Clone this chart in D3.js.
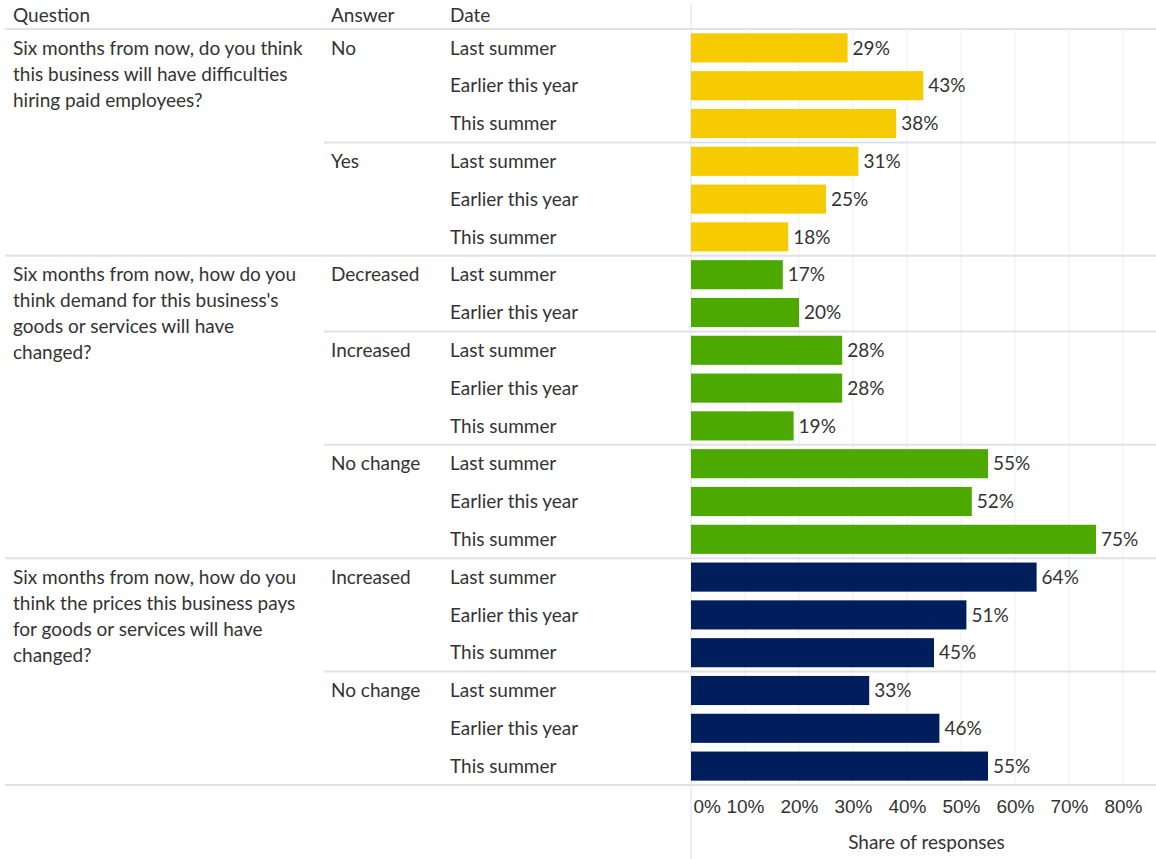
<!DOCTYPE html>
<html>
<head>
<meta charset="utf-8">
<script src="https://cdn.jsdelivr.net/npm/d3@7"></script>
<style>
  html, body { margin: 0; padding: 0; background: #fff; }
  svg { display: block; font-family: Lato, "Open Sans", sans-serif; }
  text { fill: #333; }
</style>
</head>
<body>
<svg id="chart" width="1156" height="859"></svg>
<script>
// Survey questions (pre-wrapped into lines)
const questionLines = [
  ["Six months from now, do you think", "this business will have difficulties", "hiring paid employees?"],
  ["Six months from now, how do you", "think demand for this business's", "goods or services will have", "changed?"],
  ["Six months from now, how do you", "think the prices this business pays", "for goods or services will have", "changed?"]
];
const questionColors = ["#F6CC00", "#4BA900", "#001E5C"];

// Answer groups and the question each belongs to
const answerLabels = ["No", "Yes", "Decreased", "Increased", "No change", "Increased", "No change"];
const answerQuestion = [0, 0, 1, 1, 1, 2, 2];

// One entry per bar row
const rowAnswer = [0, 0, 0, 1, 1, 1, 2, 2, 3, 3, 3, 4, 4, 4, 5, 5, 5, 6, 6, 6];
const rowDate = [
  "Last summer", "Earlier this year", "This summer",
  "Last summer", "Earlier this year", "This summer",
  "Last summer", "Earlier this year",
  "Last summer", "Earlier this year", "This summer",
  "Last summer", "Earlier this year", "This summer",
  "Last summer", "Earlier this year", "This summer",
  "Last summer", "Earlier this year", "This summer"
];
const shareValues = [29, 43, 38, 31, 25, 18, 17, 20, 28, 28, 19, 55, 52, 75, 64, 51, 45, 33, 46, 55];

const xTicks = [0, 10, 20, 30, 40, 50, 60, 70, 80];
const headers = ["Question", "Answer", "Date"];

// Layout
const W = 1156, H = 859;
const fontSize = 19;
const colX = [13, 331, 450];
const tableLeft = 5;
const answerLineLeft = 324;
const rowsTop = 29, rowsBottom = 785;
const svg = d3.select("#chart");

const x = d3.scaleLinear().domain([0, 80]).range([691, 1123]);
const y = d3.scaleBand().domain(d3.range(shareValues.length))
  .range([rowsTop, rowsBottom]).paddingInner(0.23).paddingOuter(0.115);
const step = y.step();
const rowMid = i => y(i) + y.bandwidth() / 2;

// Vertical gridlines across the rows
svg.append("g").selectAll("line").data(xTicks.slice(1)).join("line")
  .attr("x1", d => x(d)).attr("x2", d => x(d))
  .attr("y1", rowsTop).attr("y2", rowsBottom)
  .attr("stroke", "#efefef").attr("stroke-width", 1);

// Row-group separators
const answerStart = answerLabels.map((_, a) => rowAnswer.indexOf(a));
const questionStart = questionLines.map((_, q) => answerStart[answerQuestion.indexOf(q)]);
const sepG = svg.append("g");
answerStart.forEach((r, a) => {
  if (r === 0) return;
  const newQuestion = answerQuestion[a] !== answerQuestion[a - 1];
  const yy = rowsTop + r * step;
  sepG.append("line")
    .attr("x1", newQuestion ? tableLeft : answerLineLeft).attr("x2", W)
    .attr("y1", yy).attr("y2", yy)
    .attr("stroke", "#e2e2e2").attr("stroke-width", 2);
});
[rowsTop, rowsBottom].forEach(yy => {
  sepG.append("line").attr("x1", tableLeft).attr("x2", W)
    .attr("y1", yy).attr("y2", yy)
    .attr("stroke", "#e2e2e2").attr("stroke-width", 2);
});

// Zero line of the value pane
svg.append("line")
  .attr("x1", x(0)).attr("x2", x(0)).attr("y1", 3).attr("y2", H)
  .attr("stroke", "#e4e4e4").attr("stroke-width", 1.2);

// Column headers
svg.append("g").selectAll("text").data(headers).join("text")
  .attr("x", (d, i) => colX[i]).attr("y", 15)
  .attr("dy", "0.35em").attr("font-size", fontSize)
  .text(d => d);

// Question labels
const qG = svg.append("g");
questionLines.forEach((lines, q) => {
  const yy = rowMid(questionStart[q]);
  qG.append("text").attr("font-size", fontSize)
    .selectAll("tspan").data(lines).join("tspan")
    .attr("x", colX[0]).attr("y", (d, i) => yy + i * 26)
    .attr("dy", "0.35em").text(d => d);
});

// Answer labels
svg.append("g").selectAll("text").data(answerLabels).join("text")
  .attr("x", colX[1]).attr("y", (d, a) => rowMid(answerStart[a]))
  .attr("dy", "0.35em").attr("font-size", fontSize)
  .text(d => d);

// Date labels
svg.append("g").selectAll("text").data(rowDate).join("text")
  .attr("x", colX[2]).attr("y", (d, i) => rowMid(i))
  .attr("dy", "0.35em").attr("font-size", fontSize)
  .text(d => d);

// Bars
svg.append("g").selectAll("rect").data(shareValues).join("rect")
  .attr("x", x(0))
  .attr("y", (d, i) => y(i))
  .attr("width", d => x(d) - x(0))
  .attr("height", y.bandwidth())
  .attr("fill", (d, i) => questionColors[answerQuestion[rowAnswer[i]]]);

// Value labels
svg.append("g").selectAll("text").data(shareValues).join("text")
  .attr("x", d => x(d) + 5)
  .attr("y", (d, i) => rowMid(i))
  .attr("dy", "0.35em").attr("font-size", fontSize)
  .text(d => d + "%");

// Bottom axis
const axis = svg.append("g")
  .attr("transform", `translate(0,${rowsBottom})`)
  .call(d3.axisBottom(x).tickValues(xTicks).tickFormat(d => d + "%")
    .tickSize(0).tickPadding(15));
axis.select(".domain").remove();
axis.selectAll("text")
  .attr("font-size", fontSize).attr("font-family", "inherit").style("fill", "#333")
  .attr("text-anchor", d => d === 0 ? "start" : "middle")
  .attr("dx", d => d === 0 ? 2 : 0);

// Axis title
svg.append("text")
  .attr("x", (x(0) + W) / 2 + 3).attr("y", 842)
  .attr("dy", "0.35em").attr("text-anchor", "middle")
  .attr("font-size", fontSize)
  .text("Share of responses");
</script>
</body>
</html>
